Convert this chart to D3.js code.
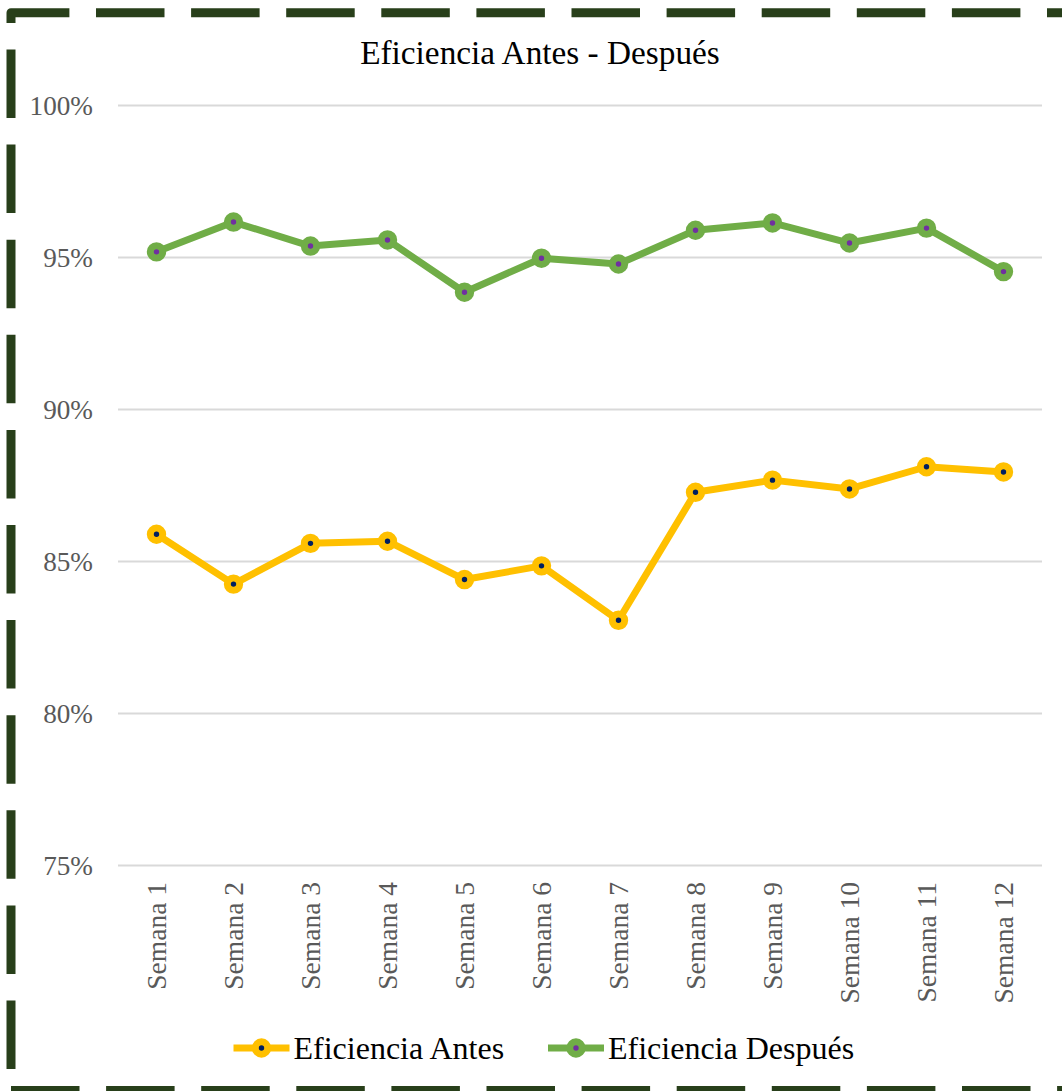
<!DOCTYPE html>
<html>
<head>
<meta charset="utf-8">
<script src="https://cdn.jsdelivr.net/npm/d3@7"></script>
<style>
  html, body { margin: 0; padding: 0; background: #fff; overflow: hidden; }
  svg { display: block; }
  text { font-family: "Liberation Serif", "Times New Roman", serif; }
</style>
</head>
<body>
<svg id="chart" width="1062" height="1091"></svg>
<script>
// Weekly efficiency, before and after the change
const categories = ["Semana 1", "Semana 2", "Semana 3", "Semana 4", "Semana 5", "Semana 6",
                    "Semana 7", "Semana 8", "Semana 9", "Semana 10", "Semana 11", "Semana 12"];
const eficienciaAntes   = [85.88, 84.24, 85.58, 85.65, 84.39, 84.84, 83.05, 87.26, 87.66, 87.37, 88.10, 87.93];
const eficienciaDespues = [95.17, 96.15, 95.36, 95.56, 93.84, 94.96, 94.77, 95.88, 96.12, 95.46, 95.95, 94.52];
const yTicks = [75, 80, 85, 90, 95, 100];
const seriesNames = ["Eficiencia Antes", "Eficiencia Después"];
const title = "Eficiencia Antes - Después";

const series = [
  { name: seriesNames[0], values: eficienciaAntes,   color: "#ffc000", dot: "#002060" },
  { name: seriesNames[1], values: eficienciaDespues, color: "#70ad47", dot: "#7030a0" }
];

const svg = d3.select("#chart");
const plot = { left: 118, right: 1042, top: 105, bottom: 865 };

const x = d3.scaleBand().domain(categories).range([plot.left, plot.right]).padding(0);
const cx = c => x(c) + x.bandwidth() / 2;
const y = d3.scaleLinear().domain([75, 100]).range([plot.bottom, plot.top]);

// Dashed outer frame (left + top, then bottom)
const frameColor = "#283f1a";
svg.append("path")
  .attr("d", "M11,1090.5 V12.8 H1090")
  .attr("fill", "none")
  .attr("stroke", frameColor)
  .attr("stroke-width", 9)
  .attr("stroke-linejoin", "round")
  .attr("stroke-dasharray", "68.5 26.6")
  .attr("stroke-dashoffset", -21.5);
svg.append("path")
  .attr("d", "M11,1090.5 H1090")
  .attr("fill", "none")
  .attr("stroke", frameColor)
  .attr("stroke-width", 9)
  .attr("stroke-dasharray", "68.5 26.6");

// Title
svg.append("text")
  .attr("x", 540).attr("y", 64)
  .attr("text-anchor", "middle")
  .attr("font-size", 33.3)
  .attr("fill", "#000")
  .text(title);

// Horizontal gridlines
const grid = svg.append("g")
  .attr("transform", `translate(${plot.left},0)`)
  .call(d3.axisLeft(y).tickValues(yTicks).tickSize(-(plot.right - plot.left)).tickFormat(""));
grid.select(".domain").remove();
grid.selectAll(".tick line").attr("stroke", "#d9d9d9").attr("stroke-width", 2);

// Y tick labels
const yAxis = svg.append("g")
  .attr("transform", `translate(93,0)`)
  .call(d3.axisLeft(y).tickValues(yTicks).tickSize(0).tickPadding(0).tickFormat(d => d + "%"));
yAxis.select(".domain").remove();
yAxis.selectAll("text")
  .attr("font-family", "'Liberation Serif', 'Times New Roman', serif")
  .attr("font-size", 27.2)
  .attr("fill", "#595959")
  .attr("dy", "0.34em");

// X category labels, rotated
const xAxis = svg.append("g")
  .attr("transform", `translate(0,${plot.bottom})`)
  .call(d3.axisBottom(x).tickSize(0).tickPadding(0));
xAxis.select(".domain").remove();
xAxis.selectAll("text")
  .attr("font-family", "'Liberation Serif', 'Times New Roman', serif")
  .attr("font-size", 27.5)
  .attr("fill", "#595959")
  .attr("text-anchor", "end")
  .attr("transform", "translate(0,17) rotate(-90)")
  .attr("x", 0)
  .attr("y", 0)
  .attr("dy", "0.34em");

// Series lines and markers
const line = d3.line()
  .x((d, i) => cx(categories[i]))
  .y(d => y(d));

series.forEach(s => {
  svg.append("path")
    .datum(s.values)
    .attr("d", line)
    .attr("fill", "none")
    .attr("stroke", s.color)
    .attr("stroke-width", 7)
    .attr("stroke-linejoin", "round")
    .attr("stroke-linecap", "round");
  svg.append("g").selectAll("circle")
    .data(s.values)
    .join("circle")
    .attr("cx", (d, i) => cx(categories[i]))
    .attr("cy", d => y(d))
    .attr("r", 6.2)
    .attr("fill", s.dot)
    .attr("stroke", s.color)
    .attr("stroke-width", 7);
});

// Legend
const legendY = 1048;
const legendX = [233.5, 548];
const legend = svg.append("g").selectAll("g")
  .data(series)
  .join("g")
  .attr("transform", (d, i) => `translate(${legendX[i]},${legendY})`);
legend.append("line")
  .attr("x1", 0).attr("x2", 56).attr("y1", 0).attr("y2", 0)
  .attr("stroke", d => d.color).attr("stroke-width", 7);
legend.append("circle")
  .attr("cx", 28).attr("cy", 0).attr("r", 6.2)
  .attr("fill", d => d.dot)
  .attr("stroke", d => d.color).attr("stroke-width", 7);
legend.append("text")
  .attr("x", 60).attr("y", 0).attr("dy", "0.34em")
  .attr("font-size", 32)
  .attr("fill", "#000")
  .text(d => d.name);
</script>
</body>
</html>
